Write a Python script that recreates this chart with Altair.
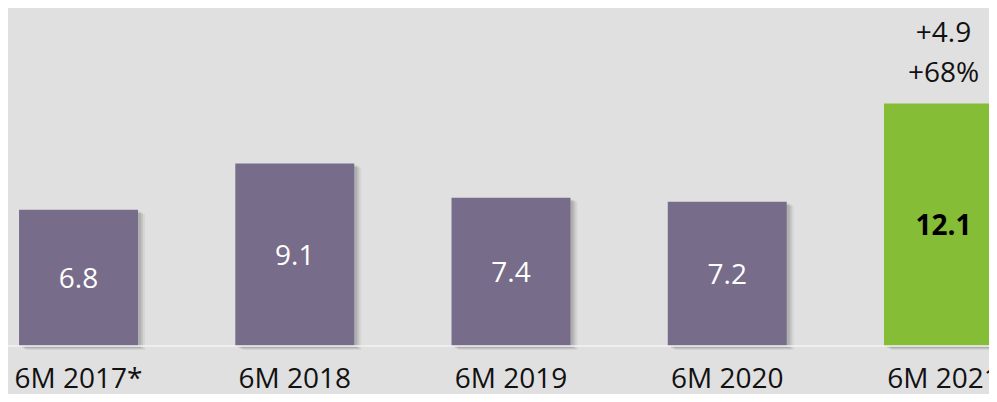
import altair as alt
import pandas as pd

categories = ["6M 2017*", "6M 2018", "6M 2019", "6M 2020", "6M 2021"]
values = [6.8, 9.1, 7.4, 7.2, 12.1]
bar_colors = ["#776c89", "#776c89", "#776c89", "#776c89", "#85bd36"]
label_colors = ["#ffffff", "#ffffff", "#ffffff", "#ffffff", "#000000"]
label_bold = [False, False, False, False, True]
value_texts = ["6.8", "9.1", "7.4", "7.2", "12.1"]

delta_category = "6M 2021"
delta_value = 12.1
delta_abs = "+4.9"
delta_pct = "+68%"

df = pd.DataFrame({
    "cat": categories,
    "val": values,
    "color": bar_colors,
    "lcolor": label_colors,
    "bold": label_bold,
    "txt": value_texts,
})
df["half"] = df["val"] / 2

ddf = pd.DataFrame({"cat": [delta_category], "val": [delta_value],
                    "a": [delta_abs], "p": [delta_pct]})

FONT = "Open Sans"
W, H = 981, 386

x = alt.X("cat:N", sort=categories, axis=None,
          scale=alt.Scale(range=[-37.6, 1043.6], paddingInner=0.45, paddingOuter=0.225))
y_scale = alt.Scale(domain=[0, 16.86], range=[338, 0])
y = alt.Y("val:Q", axis=None, scale=y_scale)

base = alt.Chart(df).encode(x=x)

shadows = []
for dx, dy, op in [(3, 2, 0.10), (5, 3, 0.08), (7, 4, 0.05)]:
    shadows.append(base.mark_bar(color="#000000", opacity=op, xOffset=dx, x2Offset=dx,
                                 yOffset=dy, y2Offset=dy).encode(
        y=y, y2=alt.datum(0)))

bars = base.mark_bar().encode(y=y, y2=alt.datum(0),
                              color=alt.Color("color:N", scale=None))

baseline = alt.Chart(pd.DataFrame({"v": [0]})).mark_rule(color="#f3f3f3", strokeWidth=1.5).encode(
    y=alt.Y("v:Q", scale=y_scale, axis=None), x=alt.value(0), x2=alt.value(W))

vlabels_n = base.transform_filter("!datum.bold").mark_text(
    font=FONT, fontSize=28, baseline="middle", align="center", dy=2).encode(
    y=alt.Y("half:Q", scale=y_scale, axis=None),
    text="txt:N",
    color=alt.Color("lcolor:N", scale=None),
)
vlabels_b = base.transform_filter("datum.bold").mark_text(
    font=FONT, fontSize=28, fontWeight="bold", baseline="middle", align="center", dy=2).encode(
    y=alt.Y("half:Q", scale=y_scale, axis=None),
    text="txt:N",
    color=alt.Color("lcolor:N", scale=None),
)

clabels = base.mark_text(font=FONT, fontSize=28, baseline="bottom", align="center",
                         color="#111111").encode(
    y=alt.value(386), text="cat:N")

dbase = alt.Chart(ddf).encode(x=x, y=alt.Y("val:Q", scale=y_scale, axis=None))
dabs = dbase.mark_text(font=FONT, fontSize=28, baseline="middle", align="center",
                       color="#111111", dy=-69).encode(text="a:N")
dpct = dbase.mark_text(font=FONT, fontSize=28, baseline="middle", align="center",
                       color="#111111", dy=-29).encode(text="p:N")

chart = alt.layer(*shadows, bars, baseline, vlabels_n, vlabels_b, clabels, dabs, dpct).properties(
    width=W, height=H, background="#e0e0e0",
    autosize=alt.AutoSizeParams(type="none"), padding=0,
).configure_view(stroke=None)

chart.save("out.html", embed_options={"renderer": "svg", "actions": False})
